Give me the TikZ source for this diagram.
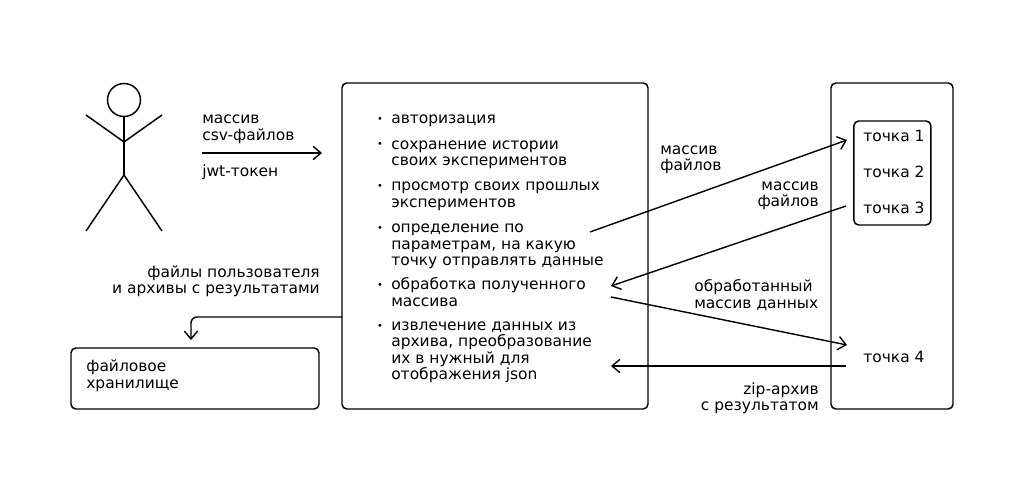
\documentclass[tikz,border=0pt]{standalone}
\usepackage{fontspec}
\setmainfont{DejaVu Sans}
\usepackage{tikz}
\usetikzlibrary{arrows.meta, positioning}

\newcommand{\itembullet}{\leavevmode\llap{\raisebox{0.8pt}{\fontsize{7}{7}\selectfont\textbullet}\hspace{0.21cm}}}

\begin{document}
\begin{tikzpicture}[
    box/.style={rectangle, draw, line width=1.05pt, rounded corners=0.12cm},
    label/.style={font=\fontsize{11}{11.7}\selectfont, inner sep=0pt, align=left, anchor=west},
    labelr/.style={label, align=right, anchor=east},
    arrow/.style={-{Straight Barb[length=5.6pt,width=9.5pt]}, line width=1pt},
    limb/.style={line width=1.05pt}]
    \useasboundingbox (0,0) rectangle (25.6,12.3);

    % boxes
    \node[box, minimum width=7.65cm, minimum height=8.15cm] (server) at (12.375,6.15) {};
    \node[box, minimum width=3.05cm, minimum height=8.15cm] (cluster) at (22.3,6.15) {};
    \node[box, minimum width=1.925cm, minimum height=2.6cm] (points) at (22.31,7.975) {};
    \node[box, minimum width=6.2cm, minimum height=1.525cm] (storage) at (4.875,2.8375) {};

    % user figure
    \node[circle, draw, limb, minimum size=0.825cm, inner sep=0pt] (head) at (3.1,9.8) {};
    \coordinate (shoulder) at (3.1,8.75);
    \coordinate (hip) at (3.1,7.925);
    \coordinate (handl) at (2.15,9.425);
    \coordinate (handr) at (4.05,9.425);
    \coordinate (footl) at (2.15,6.525);
    \coordinate (footr) at (4.05,6.525);
    \draw[limb] (head.south) -- (hip);
    \draw[limb] (handl) -- (shoulder) -- (handr);
    \draw[limb] (footl) -- (hip) -- (footr);

    % list of functions
    \node[label] (auth) at (9.775,9.275) {\itembullet авторизация};
    \node[label] (history) at (9.775,8.435) {\itembullet сохранение истории\\своих экспериментов};
    \node[label] (past) at (9.775,7.39) {\itembullet просмотр своих прошлых\\экспериментов};
    \node[label] (choose) at (9.775,6.14) {\itembullet определение по\\параметрам, на какую\\точку отправлять данные};
    \node[label] (process) at (9.775,5.0) {\itembullet обработка полученного\\массива};
    \node[label] (extract) at (9.775,3.49) {\itembullet извлечение данных из\\архива, преобразование\\их в нужный для\\отображения json};

    % points
    \node[label] (point1) at (21.575,8.9) {точка 1};
    \node[label] (point2) at (21.575,8.0) {точка 2};
    \node[label] (point3) at (21.575,7.1) {точка 3};
    \node[label] (point4) at (21.575,3.375) {точка 4};
    \node[label] (storagetext) at (2.15,2.91) {файловое\\хранилище};

    % labels
    \node[label] (csv) at (5.05,9.07) {массив\\csv-файлов};
    \node[label] (jwt) at (5.05,8.0) {jwt-токен};
    \node[labelr] (userfiles) at (8.0,5.275) {файлы пользователя\hspace{0.1cm}\\и архивы с результатами};
    \node[label] (files1) at (16.5,8.3) {массив\\файлов};
    \node[labelr] (files2) at (20.475,7.4) {массив\\файлов};
    \node[label] (processed) at (17.35,4.925) {обработанный\\массив данных};
    \node[labelr] (zip) at (20.475,2.35) {zip-архив\hspace{0.12cm}\\с результатом};

    % connectors
    \coordinate (sendfrom) at (5.05,8.475);
    \coordinate (sendto) at (8.05,8.475);
    \coordinate (savefrom) at (8.55,4.375);
    \coordinate (saveto) at (4.775,3.8);
    \coordinate (chooseout) at (14.75,6.5);
    \coordinate (point1in) at (21.175,8.8);
    \coordinate (point3out) at (21.15,7.15);
    \coordinate (processin) at (15.275,5.15);
    \coordinate (processout) at (15.275,4.875);
    \coordinate (point4in) at (21.175,3.675);
    \coordinate (point4out) at (21.15,3.15);
    \coordinate (extractin) at (15.275,3.15);
    \draw[arrow] (sendfrom) -- (sendto);
    \draw[arrow, rounded corners=0.15cm] (savefrom) -| (saveto);
    \draw[arrow] (chooseout) -- (point1in);
    \draw[arrow] (point3out) -- (processin);
    \draw[arrow] (processout) -- (point4in);
    \draw[arrow] (point4out) -- (extractin);
\end{tikzpicture}
\end{document}
